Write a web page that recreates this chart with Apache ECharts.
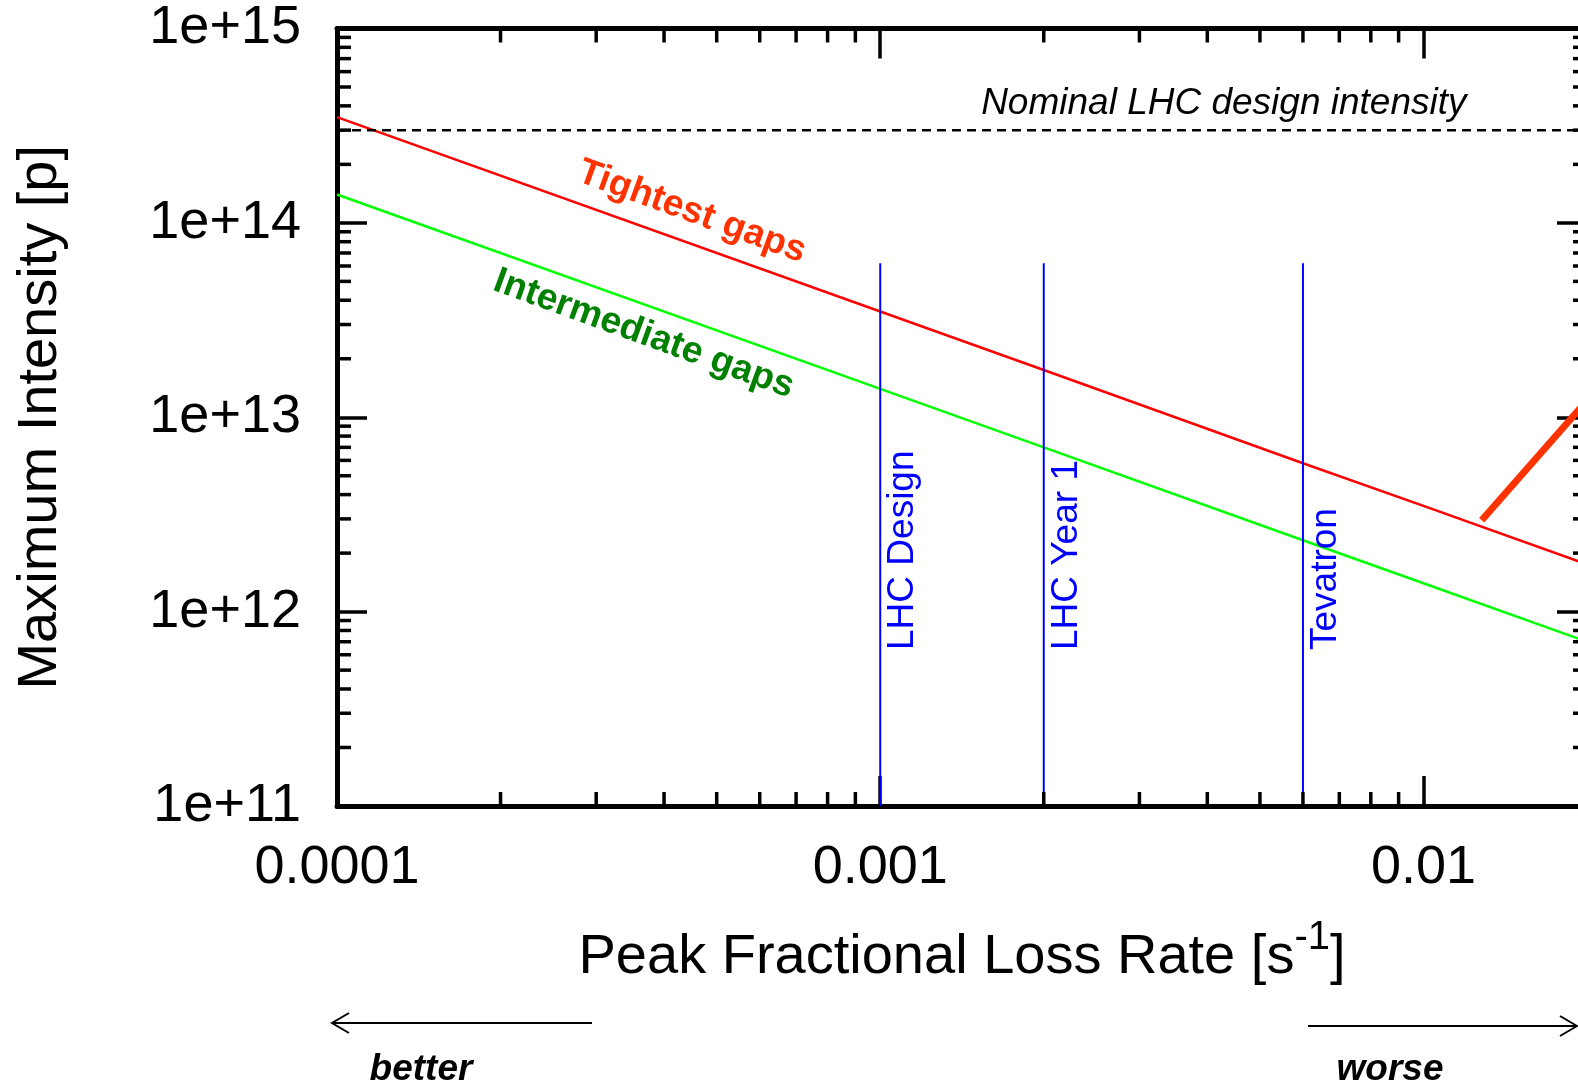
<!DOCTYPE html>
<html>
<head>
<meta charset="utf-8">
<script src="https://cdn.jsdelivr.net/npm/echarts@6/dist/echarts.min.js"></script>
<style>
html, body { margin: 0; padding: 0; background: #fff; }
#chart { width: 1578px; height: 1085px; }
</style>
</head>
<body>
<div id="chart"></div>
<script>
// values
var lossRates = [0.0001, 0.001, 0.002, 0.006, 0.01, 0.02];
var tightestGaps = [3.5e14, 3.5e13, 1.75e13, 5.8e12, 3.5e12, 1.75e12];
var intermediateGaps = [1.4e14, 1.4e13, 7e12, 2.33e12, 1.4e12, 7e11];
var nominalIntensity = 3e14;
var markerNames = ['LHC Design', 'LHC Year 1', 'Tevatron'];
var markerRates = [0.001, 0.002, 0.006];
var markerTop = 6.2e13;
var pointerRates = [0.0128, 0.02];
var pointerIntensity = [2.95e12, 1.22e13];

// axis range and minor tick positions
var xMin = 0.0001, xMax = 0.02;
var yMin = 1e11, yMax = 1e15;
var xMinorTicks = [0.0002, 0.0003, 0.0004, 0.0005, 0.0006, 0.0007, 0.0008, 0.0009,
                   0.002, 0.003, 0.004, 0.005, 0.006, 0.007, 0.008, 0.009];
var yMinorTicks = [2e11, 3e11, 4e11, 5e11, 6e11, 7e11, 8e11, 9e11,
                   2e12, 3e12, 4e12, 5e12, 6e12, 7e12, 8e12, 9e12,
                   2e13, 3e13, 4e13, 5e13, 6e13, 7e13, 8e13, 9e13,
                   2e14, 3e14, 4e14, 5e14, 6e14, 7e14, 8e14, 9e14];

var FONT = '"Liberation Sans", Arial, Helvetica, sans-serif';

var chart = echarts.init(document.getElementById('chart'), null, { renderer: 'canvas' });

function zip(xs, ys) {
    return xs.map(function (x, i) { return [x, ys[i]]; });
}

function xLabel(v) {
    var e = Math.round(Math.log10(v));
    return Math.pow(10, e).toFixed(-e);
}

function yLabel(v) {
    return '1e+' + Math.round(Math.log10(v));
}

function baseAxis(extra) {
    var ax = {
        type: 'log',
        logBase: 10,
        axisLine: { show: true, onZero: false, lineStyle: { color: '#000', width: 5 } },
        axisTick: { show: true, inside: true, length: 30, lineStyle: { color: '#000', width: 3.5 } },
        splitLine: { show: false },
        minorTick: { show: false },
        axisLabel: { show: false }
    };
    for (var k in extra) ax[k] = extra[k];
    return ax;
}

var lineSeries = function (name, data, color, width, dash) {
    return {
        name: name,
        type: 'line',
        data: data,
        showSymbol: false,
        symbol: 'none',
        silent: true,
        clip: false,
        lineStyle: { color: color, width: width, type: dash || 'solid' },
        z: 3
    };
};

var series = [
    lineSeries('Tightest gaps', zip(lossRates, tightestGaps), '#ff0000', 2.5),
    lineSeries('Intermediate gaps', zip(lossRates, intermediateGaps), '#00ff00', 2.5),
    lineSeries('Nominal', [[lossRates[0], nominalIntensity], [lossRates[lossRates.length - 1], nominalIntensity]],
        '#000', 2.5, [9, 6])
];

markerRates.forEach(function (r, i) {
    series.push(lineSeries(markerNames[i], [[r, yMin], [r, markerTop]], '#0000ff', 2));
});

var pointer = lineSeries('pointer', zip(pointerRates, pointerIntensity), '#ff3300', 7);
pointer.lineStyle.cap = 'butt';
pointer.z = 4;
series.push(pointer);

// minor ticks on all four sides
function tickLine(x1, y1, x2, y2) {
    return { type: 'line', shape: { x1: x1, y1: y1, x2: x2, y2: y2 }, style: { stroke: '#000', lineWidth: 3.5 } };
}

series.push({
    type: 'custom',
    silent: true,
    data: xMinorTicks.map(function (v) { return [v, yMin]; }),
    renderItem: function (params, api) {
        var pb = api.coord([api.value(0), yMin]);
        var pt = api.coord([api.value(0), yMax]);
        return {
            type: 'group',
            children: [
                tickLine(pb[0], pb[1], pb[0], pb[1] - 14),
                tickLine(pt[0], pt[1], pt[0], pt[1] + 14)
            ]
        };
    },
    z: 5
});
series.push({
    type: 'custom',
    silent: true,
    data: yMinorTicks.map(function (v) { return [xMin, v]; }),
    renderItem: function (params, api) {
        var pl = api.coord([xMin, api.value(1)]);
        var pr = api.coord([xMax, api.value(1)]);
        return {
            type: 'group',
            children: [
                tickLine(pl[0], pl[1], pl[0] + 14, pl[1]),
                tickLine(pr[0], pr[1], pr[0] - 14, pr[1])
            ]
        };
    },
    z: 5
});

var option = {
    animation: false,
    backgroundColor: '#fff',
    grid: {
        left: 337, top: 28.5, width: 1250, height: 777.5,
        containLabel: false,
        outerBoundsMode: 'none'
    },
    xAxis: [
        baseAxis({
            min: xMin, max: xMax, position: 'bottom',
            axisLabel: {
                show: true, fontSize: 54, color: '#000', fontFamily: FONT, margin: 35,
                showMaxLabel: false, formatter: xLabel
            },
            name: '{t|Peak Fractional Loss Rate [s}{s|-1}{t|]}',
            nameLocation: 'middle',
            nameGap: 112,
            nameTextStyle: {
                fontSize: 56, color: '#000', fontFamily: FONT,
                rich: {
                    t: { fontSize: 56, lineHeight: 80, color: '#000', fontFamily: FONT },
                    s: { fontSize: 40, lineHeight: 40, color: '#000', fontFamily: FONT, verticalAlign: 'top' }
                }
            }
        }),
        baseAxis({ min: xMin, max: xMax, position: 'top' })
    ],
    yAxis: [
        baseAxis({
            min: yMin, max: yMax, position: 'left',
            axisLabel: {
                show: true, fontSize: 54, color: '#000', fontFamily: FONT, margin: 36,
                showMaxLabel: true, showMinLabel: true, formatter: yLabel
            },
            name: 'Maximum Intensity [p]',
            nameLocation: 'middle',
            nameGap: 268,
            nameTextStyle: { fontSize: 56, color: '#000', fontFamily: FONT }
        }),
        baseAxis({ min: yMin, max: yMax, position: 'right' })
    ],
    series: series
};

chart.setOption(option);

// annotations, placed in data coordinates
function px(x, y) {
    return chart.convertToPixel({ xAxisIndex: 0, yAxisIndex: 0 }, [x, y]);
}

function textAt(p, text, font, color, rot, align) {
    return {
        type: 'text',
        x: p[0], y: p[1],
        rotation: rot || 0,
        silent: true,
        z: 10,
        style: {
            text: text, font: font, fill: color,
            align: align || 'center', verticalAlign: 'middle'
        }
    };
}

var graphics = [];
graphics.push(textAt(px(4.5e-4, 1.14e14), 'Tightest gaps', 'bold 37px ' + FONT, '#ff3300', -20 * Math.PI / 180));
graphics.push(textAt(px(3.67e-4, 2.68e13), 'Intermediate gaps', 'bold 37px ' + FONT, '#008000', -20 * Math.PI / 180));
graphics.push(textAt(px(4.29e-3, 4.12e14), 'Nominal LHC design intensity', 'italic 37px ' + FONT, '#000', 0));

markerRates.forEach(function (r, i) {
    var p = px(r, 6.35e11);
    graphics.push(textAt([p[0] + 23, p[1]], markerNames[i], '37px ' + FONT, '#0000ff', Math.PI / 2, 'left'));
});

// better / worse arrows under the chart
var arrowStyle = { stroke: '#000', lineWidth: 2, fill: null };
graphics.push({ type: 'polyline', silent: true, shape: { points: [[332, 1023], [592, 1023]] }, style: arrowStyle });
graphics.push({ type: 'polyline', silent: true, shape: { points: [[349, 1013], [332, 1023], [349, 1033]] }, style: arrowStyle });
graphics.push({ type: 'polyline', silent: true, shape: { points: [[1308, 1026], [1577, 1026]] }, style: arrowStyle });
graphics.push({ type: 'polyline', silent: true, shape: { points: [[1560, 1016], [1577, 1026], [1560, 1036]] }, style: arrowStyle });
graphics.push(textAt([421, 1070], 'better', 'italic bold 37px ' + FONT, '#000', 0));
graphics.push(textAt([1390, 1070], 'worse', 'italic bold 37px ' + FONT, '#000', 0));

chart.setOption({ graphic: graphics });
</script>
</body>
</html>
